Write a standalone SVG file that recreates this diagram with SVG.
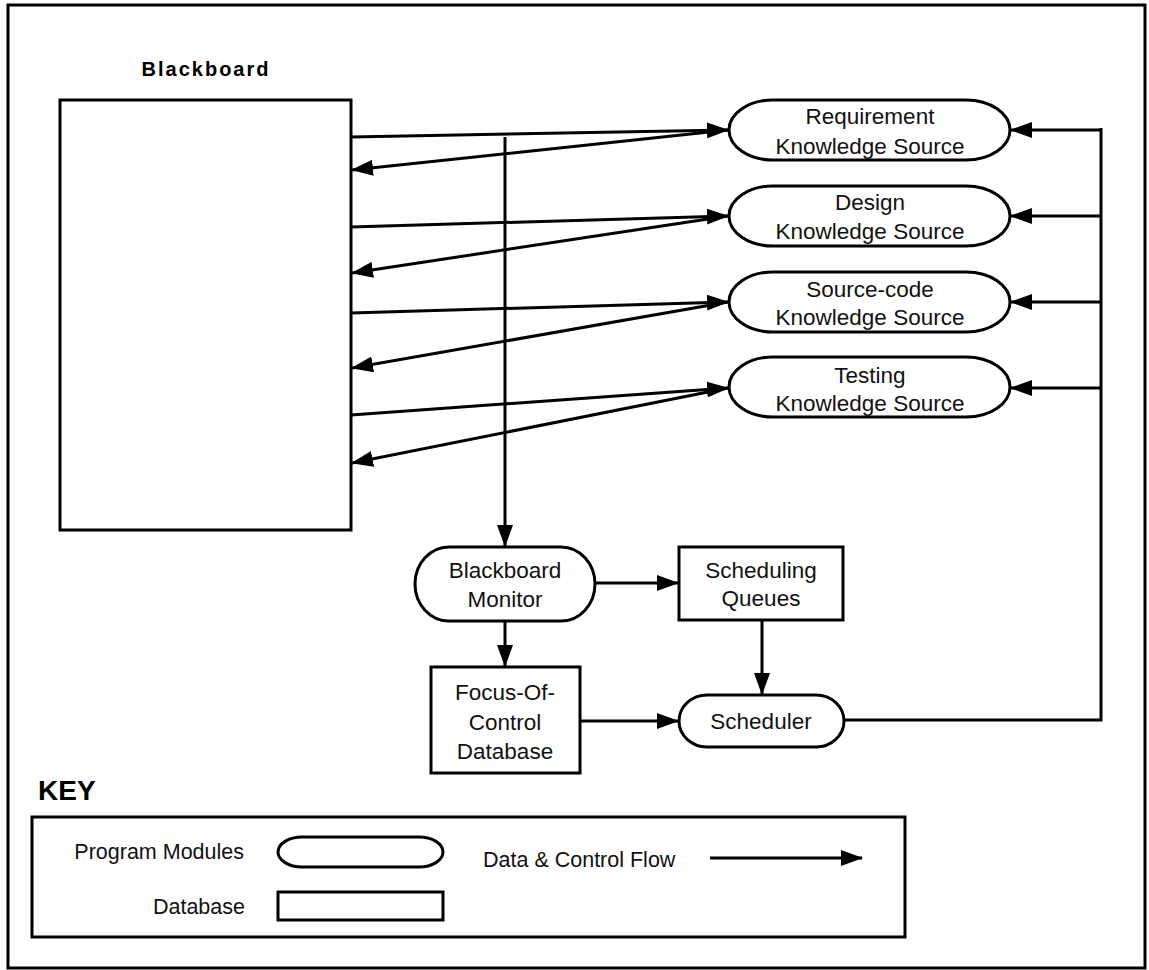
<svg xmlns="http://www.w3.org/2000/svg" width="1149" height="970" viewBox="0 0 1149 970">
<defs>
<style>
.s{fill:#fff;stroke:#000;stroke-width:3}
.c{fill:none;stroke:#000;stroke-width:3}
.t{font-family:"Liberation Sans",Arial,sans-serif;font-size:22.5px;fill:#111;text-anchor:middle}
.k{font-family:"Liberation Sans",Arial,sans-serif;font-size:21.5px;fill:#111}
.b{font-family:"Liberation Sans",Arial,sans-serif;font-weight:bold;fill:#000}
</style>
<marker id="a" markerUnits="userSpaceOnUse" markerWidth="22" markerHeight="16" refX="21" refY="8" orient="auto">
<path d="M0,0 L22,8 L0,16 z" fill="#000"/>
</marker>
</defs>
<rect width="1149" height="970" fill="#fff"/>
<rect x="8" y="5" width="1137" height="963" class="c"/>

<g id="blackboard">
<text x="205" y="76" class="b" font-size="20" text-anchor="middle" textLength="127">Blackboard</text>
<rect x="60" y="100" width="291" height="430" class="s"/>
</g>

<g id="ks-requirement">
<rect x="729" y="100" width="281" height="60" rx="44" ry="30" class="s"/>
<text x="870" y="124" class="t">Requirement</text>
<text x="870" y="154" class="t">Knowledge Source</text>
</g>
<g id="ks-design">
<rect x="729" y="186" width="281" height="60" rx="44" ry="30" class="s"/>
<text x="870" y="210" class="t">Design</text>
<text x="870" y="239" class="t">Knowledge Source</text>
</g>
<g id="ks-sourcecode">
<rect x="729" y="272" width="281" height="60" rx="44" ry="30" class="s"/>
<text x="870" y="297" class="t">Source-code</text>
<text x="870" y="325" class="t">Knowledge Source</text>
</g>
<g id="ks-testing">
<rect x="729" y="357" width="281" height="60" rx="44" ry="30" class="s"/>
<text x="870" y="383" class="t">Testing</text>
<text x="870" y="411" class="t">Knowledge Source</text>
</g>

<g id="bb-monitor">
<rect x="415" y="547" width="180" height="74" rx="34" ry="37" class="s"/>
<text x="505" y="578" class="t">Blackboard</text>
<text x="505" y="607" class="t">Monitor</text>
</g>
<g id="sched-queues">
<rect x="679" y="547" width="164" height="73" class="s"/>
<text x="761" y="578" class="t">Scheduling</text>
<text x="761" y="606" class="t">Queues</text>
</g>
<g id="foc-db">
<rect x="431" y="667" width="149" height="106" class="s"/>
<text x="505" y="700" class="t">Focus-Of-</text>
<text x="505" y="730" class="t">Control</text>
<text x="505" y="759" class="t">Database</text>
</g>
<g id="scheduler">
<rect x="679" y="695" width="165" height="52" rx="28" ry="26" class="s"/>
<text x="761" y="729" class="t">Scheduler</text>
</g>

<g id="connectors" class="c">
<line x1="351" y1="137" x2="728" y2="130" marker-end="url(#a)"/>
<line x1="728" y1="130" x2="352" y2="170" marker-end="url(#a)"/>
<line x1="351" y1="227" x2="728" y2="216" marker-end="url(#a)"/>
<line x1="728" y1="216" x2="352" y2="273" marker-end="url(#a)"/>
<line x1="351" y1="313" x2="728" y2="302" marker-end="url(#a)"/>
<line x1="728" y1="302" x2="352" y2="368" marker-end="url(#a)"/>
<line x1="351" y1="415" x2="728" y2="388" marker-end="url(#a)"/>
<line x1="728" y1="388" x2="352" y2="463" marker-end="url(#a)"/>
<line x1="505" y1="137" x2="505" y2="546" marker-end="url(#a)"/>
<line x1="595" y1="583" x2="678" y2="583" marker-end="url(#a)"/>
<line x1="505" y1="621" x2="505" y2="666" marker-end="url(#a)"/>
<line x1="762" y1="620" x2="762" y2="694" marker-end="url(#a)"/>
<line x1="580" y1="721" x2="678" y2="721" marker-end="url(#a)"/>
<polyline points="844,720 1101,720 1101,128"/>
<line x1="1101" y1="130" x2="1011" y2="130" marker-end="url(#a)"/>
<line x1="1101" y1="216" x2="1011" y2="216" marker-end="url(#a)"/>
<line x1="1101" y1="302" x2="1011" y2="302" marker-end="url(#a)"/>
<line x1="1101" y1="388" x2="1011" y2="388" marker-end="url(#a)"/>
</g>

<g id="key">
<text x="38" y="800" class="b" font-size="28">KEY</text>
<rect x="32" y="817" width="873" height="120" class="s"/>
<text x="244" y="859" class="k" text-anchor="end">Program Modules</text>
<rect x="278" y="837" width="165" height="30" rx="24" ry="15" class="s"/>
<text x="245" y="914" class="k" text-anchor="end">Database</text>
<rect x="278" y="892" width="165" height="28" class="s"/>
<text x="483" y="867" class="k">Data &amp; Control Flow</text>
<line x1="710" y1="858" x2="862" y2="858" class="c" marker-end="url(#a)"/>
</g>
</svg>
